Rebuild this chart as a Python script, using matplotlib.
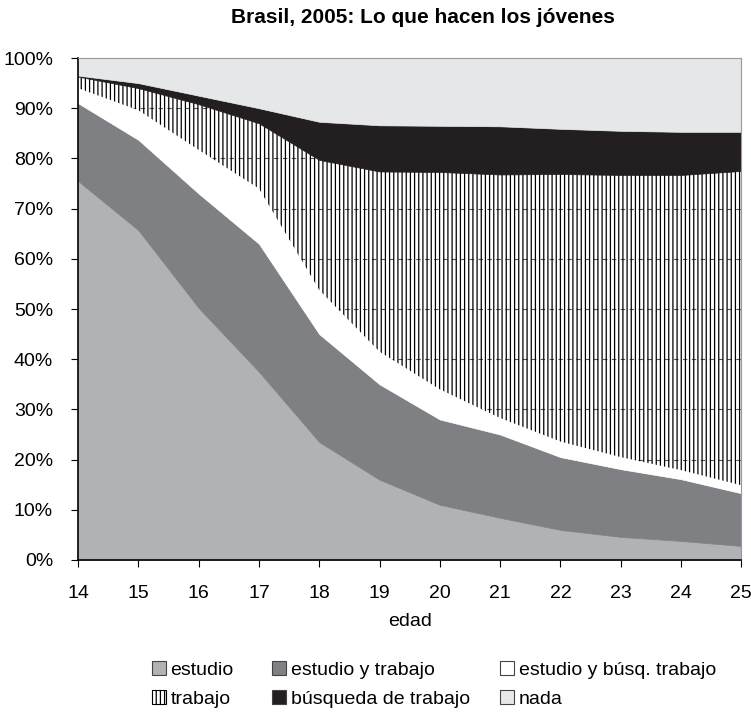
import numpy as np
import matplotlib.pyplot as plt
from matplotlib.patches import Patch

plt.rcParams['font.family'] = ['Liberation Sans', 'DejaVu Sans']
plt.rcParams['hatch.linewidth'] = 0.9

edad = [14, 15, 16, 17, 18, 19, 20, 21, 22, 23, 24, 25]

# shares (%) by activity
estudio = [75.5, 65.7, 50.2, 37.5, 23.5, 16.0, 11.0, 8.4, 6.0, 4.6, 3.8, 2.8]
estudio_trabajo = [15.5, 18.0, 22.8, 25.5, 21.5, 19.0, 17.0, 16.6, 14.5, 13.5, 12.3, 10.5]
estudio_busq = [3.0, 5.9, 8.7, 11.0, 8.8, 6.5, 6.0, 3.3, 3.1, 2.4, 1.8, 1.6]
trabajo = [2.3, 4.4, 9.1, 13.0, 25.9, 35.9, 43.3, 48.5, 53.3, 56.2, 58.8, 62.6]
busqueda = [0.2, 1.0, 1.7, 3.0, 7.6, 9.2, 9.2, 9.6, 9.0, 8.8, 8.6, 7.8]
nada = [3.5, 5.0, 7.5, 10.0, 12.7, 13.4, 13.5, 13.6, 14.1, 14.5, 14.7, 14.7]

labels = ["estudio", "estudio y trabajo", "estudio y búsq. trabajo",
          "trabajo", "búsqueda de trabajo", "nada"]
series = [estudio, estudio_trabajo, estudio_busq, trabajo, busqueda, nada]
colors = ["#b1b2b6", "#7f8084", "white", "none", "#231f20", "#e6e7e9"]

fig = plt.figure(figsize=(7.51, 7.12), dpi=100)
ax = fig.add_axes([0.104, 0.2135, 0.883, 0.705])

ax.set_yticks(np.arange(0, 101, 10))
ax.yaxis.grid(True, color="#555555", linestyle=(0, (4, 4)), linewidth=0.8)
ax.set_axisbelow(True)

base = np.zeros(len(edad))
handles = []
for lab, vals, col in zip(labels, series, colors):
    top = base + np.array(vals)
    if lab == "trabajo":
        ax.fill_between(edad, base, top, facecolor="none", edgecolor="black",
                        hatch="||||", linewidth=0, zorder=2)
        h = Patch(facecolor="white", edgecolor="black", hatch="||||", linewidth=0.8)
    else:
        ax.fill_between(edad, base, top, facecolor=col, edgecolor=col,
                        linewidth=0.5, zorder=2)
        h = Patch(facecolor=col, edgecolor="#444444", linewidth=0.8)
    handles.append(h)
    base = top

ax.set_xlim(14, 25)
ax.set_ylim(0, 100)
ax.set_xticks(edad)
ax.set_yticklabels([f"{v}%" for v in range(0, 101, 10)])
ax.tick_params(labelsize=14, direction="out", length=5, color="black")
ax.tick_params(axis="x", pad=13)
ax.tick_params(axis="y", pad=13)
for s in ["top", "right"]:
    ax.spines[s].set_color("#999999")
    ax.spines[s].set_linewidth(0.8)
for s in ["left", "bottom"]:
    ax.spines[s].set_color("black")
    ax.spines[s].set_linewidth(1.2)

ax.set_xlabel("edad", fontsize=14, labelpad=8)
fig.text(0.563, 0.976, "Brasil, 2005: Lo que hacen los jóvenes",
         ha="center", va="center", fontsize=15, fontweight="bold")

# legend: three columns placed separately
col_x = [0.202, 0.362, 0.666]
for i, x in enumerate(col_x):
    idx = [i, i + 3]
    leg = fig.legend([handles[j] for j in idx], [labels[j] for j in idx],
                     loc="upper left", bbox_to_anchor=(x, 0.071), frameon=False,
                     fontsize=14, handlelength=0.72, handleheight=0.72,
                     handletextpad=0.25, labelspacing=0.55, borderaxespad=0,
                     borderpad=0)

fig.savefig("out.png", dpi=100)
